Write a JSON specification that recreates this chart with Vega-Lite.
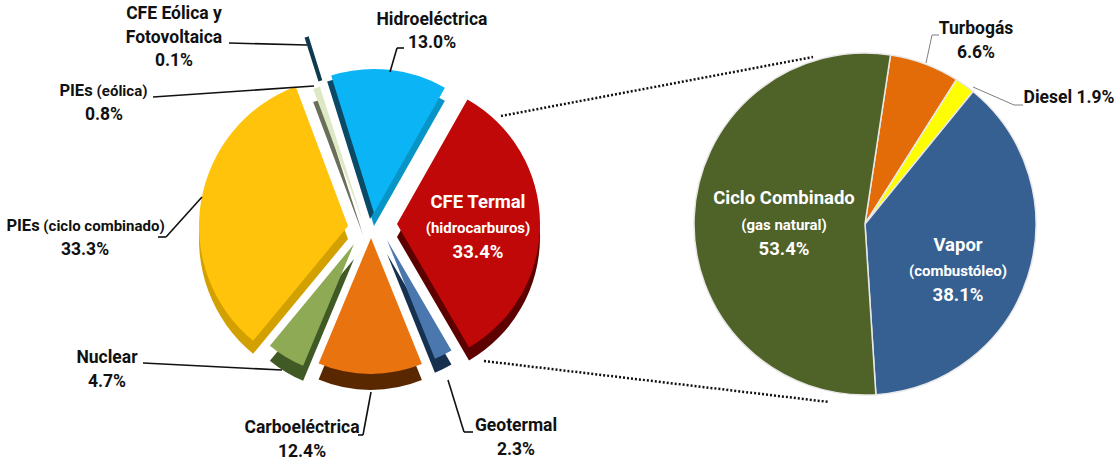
{
"$schema":"https://vega.github.io/schema/vega-lite/v6.json",
"width":1120,"height":464,"padding":0,"autosize":{"type":"none"},"background":"white",
"config":{"view":{"stroke":null}},
"params":[
{"name":"sl","expr":"{'CFE Termal':[27,-8,143,13],'Geotermal':[17,8,128,14],'Carboeléctrica':[1,6,136,16],'Nuclear':[-16,12,132,15],'PIEs (ciclo combinado)':[-22,-6,149,13],'PIEs (eólica)':[-7,-10,142,13],'CFE Eólica y Fotovoltaica':[-2,0,203,0],'Hidroeléctrica':[4,-19,144,13]}"},
{"name":"side","expr":"{'CFE Termal':'#5c0000','Geotermal':'#16304f','Carboeléctrica':'#5a2800','Nuclear':'#3f5a24','PIEs (ciclo combinado)':'#d2a000','PIEs (eólica)':'#6b6e58','CFE Eólica y Fotovoltaica':'#0e3a4e','Hidroeléctrica':'#0795c8'}"},
{"name":"seg","expr":"{c1:[-141,-189,-63,-187],h1:[20,-160,27,-184],h2:[27,-184,34,-184],p1:[-217,-135,-56,-146],y1:[-168,-35,-204,5],y2:[-204,5,-212,5],n1:[-227,131,-88,138],b1:[1,160,-7,203],b2:[-7,203,-12,203],g1:[78,148,94,200],g2:[94,200,103,200],t1:[61,-161,67,-189],t2:[67,-189,74,-189],d1:[108,-137,149,-119],d2:[149,-119,158,-119],u:[131,-116,-52,-167],l:[114,129,-36,178]}"},
{"name":"lab","expr":"{a1:[-196,-218],a2:[-196,-194],a3:[-196,-171],h1:[62,-212],h2:[62,-189],p1:[-294,-141],p2:[-248,-141],p3:[-266,-117],y1:[-347,-6],y2:[-266,-6],y3:[-285,18],n1:[-263,126],n2:[-263,150],b1:[-68,196],b2:[-68,220],g1:[146,194],g2:[146,218],r1:[108,-30],r2:[108,-4],r3:[108,20],t1:[111,-195],t2:[111,-171],d1:[204,-126],c1:[-81,-26],c2:[-81,1],c3:[-81,25],v1:[93,21],v2:[93,47],v3:[93,71]}"}
],
"datasets":{
"slices":[
{"pie":"mix","name":"CFE Termal","share":33.4},
{"pie":"mix","name":"Geotermal","share":2.3},
{"pie":"mix","name":"Carboeléctrica","share":12.4},
{"pie":"mix","name":"Nuclear","share":4.7},
{"pie":"mix","name":"PIEs (ciclo combinado)","share":33.3},
{"pie":"mix","name":"PIEs (eólica)","share":0.8},
{"pie":"mix","name":"CFE Eólica y Fotovoltaica","share":0.1},
{"pie":"mix","name":"Hidroeléctrica","share":13.0},
{"pie":"termal","name":"Turbogás","share":6.6},
{"pie":"termal","name":"Diesel","share":1.9},
{"pie":"termal","name":"Vapor","share":38.1},
{"pie":"termal","name":"Ciclo Combinado","share":53.4}
],
"leaders":[
{"id":"c1","pie":"mix","pie2":"mix"},{"id":"h1","pie":"mix","pie2":"mix"},{"id":"h2","pie":"mix","pie2":"mix"},{"id":"p1","pie":"mix","pie2":"mix"},{"id":"y1","pie":"mix","pie2":"mix"},{"id":"y2","pie":"mix","pie2":"mix"},{"id":"n1","pie":"mix","pie2":"mix"},{"id":"b1","pie":"mix","pie2":"mix"},{"id":"b2","pie":"mix","pie2":"mix"},{"id":"g1","pie":"mix","pie2":"mix"},{"id":"g2","pie":"mix","pie2":"mix"}
],
"leadersRight":[
{"id":"t1","pie":"termal","pie2":"termal"},{"id":"t2","pie":"termal","pie2":"termal"},{"id":"d1","pie":"termal","pie2":"termal"},{"id":"d2","pie":"termal","pie2":"termal"}
],
"connectors":[{"id":"u","pie":"mix","pie2":"termal"},{"id":"l","pie":"mix","pie2":"termal"}],
"labels":[
{"id":"a1","pie":"mix","text":"CFE Eólica y"},{"id":"a2","pie":"mix","text":"Fotovoltaica"},{"id":"a3","pie":"mix","text":"0.1%"},
{"id":"h1","pie":"mix","text":"Hidroeléctrica"},{"id":"h2","pie":"mix","text":"13.0%"},
{"id":"p1","pie":"mix","text":"PIEs"},{"id":"p2","pie":"mix","text":"(eólica)"},{"id":"p3","pie":"mix","text":"0.8%"},
{"id":"y1","pie":"mix","text":"PIEs"},{"id":"y2","pie":"mix","text":"(ciclo combinado)"},{"id":"y3","pie":"mix","text":"33.3%"},
{"id":"n1","pie":"mix","text":"Nuclear"},{"id":"n2","pie":"mix","text":"4.7%"},
{"id":"b1","pie":"mix","text":"Carboeléctrica"},{"id":"b2","pie":"mix","text":"12.4%"},
{"id":"g1","pie":"mix","text":"Geotermal"},{"id":"g2","pie":"mix","text":"2.3%"},
{"id":"r1","pie":"mix","text":"CFE Termal"},{"id":"r2","pie":"mix","text":"(hidrocarburos)"},{"id":"r3","pie":"mix","text":"33.4%"},
{"id":"t1","pie":"termal","text":"Turbogás"},{"id":"t2","pie":"termal","text":"6.6%"},
{"id":"d1","pie":"termal","text":"Diesel 1.9%"},
{"id":"c1","pie":"termal","text":"Ciclo Combinado"},{"id":"c2","pie":"termal","text":"(gas natural)"},{"id":"c3","pie":"termal","text":"53.4%"},
{"id":"v1","pie":"termal","text":"Vapor"},{"id":"v2","pie":"termal","text":"(combustóleo)"},{"id":"v3","pie":"termal","text":"38.1%"}
]
},
"encoding":{
"x":{"field":"pie","type":"nominal","axis":null,"scale":{"type":"point","domain":["mix","termal"],"range":[370,865],"padding":0}},
"y":{"field":"pie","type":"nominal","axis":null,"scale":{"type":"point","domain":["mix","termal"],"range":[232,224],"padding":0}}
},
"layer":[
{"data":{"name":"slices"},
"transform":[{"filter":"datum.pie=='mix'"},{"stack":"share","groupby":["pie"],"as":["s0","s1"]}],
"encoding":{
"theta":{"field":"s0","type":"quantitative","scale":{"domain":[0,100],"range":[0.515,6.798]}},
"theta2":{"field":"s1"}
},
"layer":[
{"mark":{"type":"arc","fill":{"expr":"side[datum.name]"},"xOffset":{"expr":"sl[datum.name][0]"},"yOffset":{"expr":"sl[datum.name][1]+sl[datum.name][3]"},"outerRadius":{"expr":"sl[datum.name][2]"},"innerRadius":{"expr":"datum.name=='CFE Eólica y Fotovoltaica'?160:0"},"stroke":{"expr":"datum.name=='CFE Eólica y Fotovoltaica'?'#0e3a4e':null"},"strokeWidth":3}},
{"transform":[{"filter":"datum.name=='Hidroeléctrica'"}],"mark":{"type":"arc","fill":"#0a4a66","xOffset":{"expr":"sl[datum.name][0]-4"},"yOffset":{"expr":"sl[datum.name][1]+6"},"outerRadius":{"expr":"sl[datum.name][2]"}}},
{"transform":[{"filter":"datum.name!='CFE Eólica y Fotovoltaica'"}],"mark":{"type":"arc","xOffset":{"expr":"sl[datum.name][0]"},"yOffset":{"expr":"sl[datum.name][1]"},"outerRadius":{"expr":"sl[datum.name][2]"}},
"encoding":{"color":{"field":"name","type":"nominal","legend":null,"scale":{"domain":["CFE Termal","Geotermal","Carboeléctrica","Nuclear","PIEs (ciclo combinado)","PIEs (eólica)","Hidroeléctrica","Turbogás","Diesel","Vapor","Ciclo Combinado"],"range":["#c00808","#4a78ae","#e9730f","#8faa55","#ffc30b","#dde8c4","#0bb5f5","#e36c09","#ffff00","#376092","#4f6228"]}}}}
]},
{"data":{"name":"slices"},
"transform":[{"filter":"datum.pie=='termal'"},{"stack":"share","groupby":["pie"],"as":["s0","s1"]}],
"encoding":{
"theta":{"field":"s0","type":"quantitative","scale":{"domain":[0,100],"range":[0.15,6.433]}},
"theta2":{"field":"s1"},
"color":{"field":"name","type":"nominal","legend":null}
},
"layer":[{"mark":{"type":"arc","outerRadius":171,"stroke":"#e8e8e8","strokeWidth":1.5}}]},
{"data":{"name":"leaders"},"mark":{"type":"rule","color":"#111111","strokeWidth":1.6,"xOffset":{"expr":"seg[datum.id][0]"},"yOffset":{"expr":"seg[datum.id][1]"},"x2Offset":{"expr":"seg[datum.id][2]"},"y2Offset":{"expr":"seg[datum.id][3]"}},"encoding":{"x2":{"field":"pie2"},"y2":{"field":"pie2"}}},
{"data":{"name":"leadersRight"},"mark":{"type":"rule","color":"#7f7f7f","strokeWidth":1,"xOffset":{"expr":"seg[datum.id][0]"},"yOffset":{"expr":"seg[datum.id][1]"},"x2Offset":{"expr":"seg[datum.id][2]"},"y2Offset":{"expr":"seg[datum.id][3]"}},"encoding":{"x2":{"field":"pie2"},"y2":{"field":"pie2"}}},
{"data":{"name":"connectors"},"mark":{"type":"rule","color":"#111111","strokeWidth":2.5,"strokeDash":[2,2],"xOffset":{"expr":"seg[datum.id][0]"},"yOffset":{"expr":"seg[datum.id][1]"},"x2Offset":{"expr":"seg[datum.id][2]"},"y2Offset":{"expr":"seg[datum.id][3]"}},"encoding":{"x2":{"field":"pie2"},"y2":{"field":"pie2"}}},
{"data":{"name":"labels"},"mark":{"type":"text","font":"Roboto","fontWeight":"bold","align":"center","baseline":"middle",
"fontSize":{"expr":"indexof(datum.text,'(')==0?15:(datum.text=='PIEs'?16.5:(indexof(['r1','r3','c1','c3','v1','v3'],datum.id)>=0?18.5:17.5))"},
"fill":{"expr":"indexof(['r1','r2','r3','c1','c2','c3','v1','v2','v3'],datum.id)>=0?'#ffffff':'#111111'"},
"xOffset":{"expr":"lab[datum.id][0]"},"yOffset":{"expr":"lab[datum.id][1]"}},
"encoding":{"text":{"field":"text"}}}
],
"resolve":{"scale":{"theta":"independent"}}
}
